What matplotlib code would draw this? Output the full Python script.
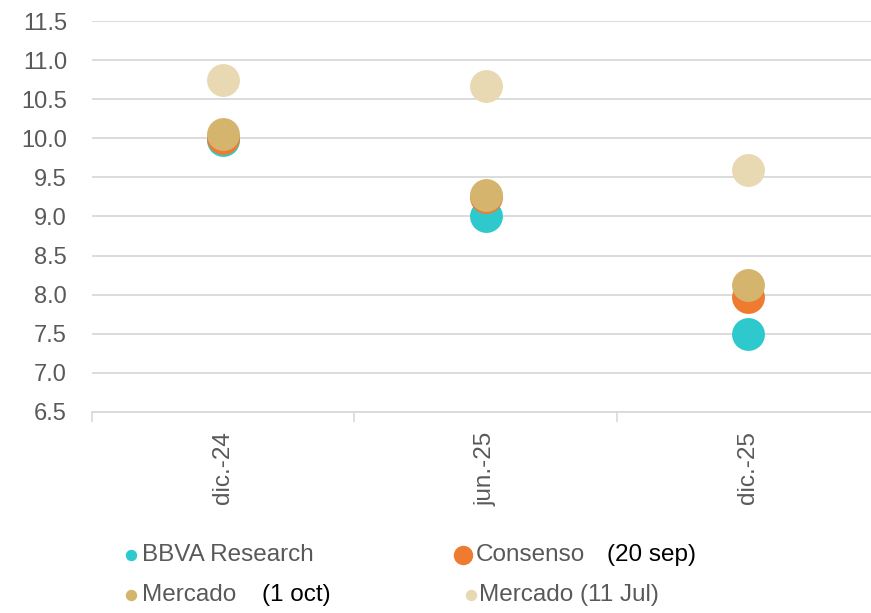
import matplotlib
matplotlib.use("Agg")
import matplotlib.pyplot as plt
from matplotlib.lines import Line2D

categories = ["dic.-24", "jun.-25", "dic.-25"]
bbva = [9.98, 9.0, 7.5]
consenso = [10.0, 9.25, 7.97]
mercado_oct = [10.05, 9.27, 8.12]
mercado_jul = [10.75, 10.67, 9.59]
yticks = [6.5, 7.0, 7.5, 8.0, 8.5, 9.0, 9.5, 10.0, 10.5, 11.0, 11.5]

c_bbva = "#2EC9CD"
c_cons = "#EE7B30"
c_oct = "#D5B56E"
c_jul = "#E8D9B3"
grey = "#595959"

plt.rcParams["font.family"] = ["Liberation Sans", "DejaVu Sans"]

fig = plt.figure(figsize=(8.71, 6.13), dpi=100)
ax = fig.add_axes([92 / 871, 201 / 613, 787 / 871, 391 / 613])

x = list(range(len(categories)))
s = 560
ax.scatter(x, bbva, s=s, color=c_bbva, zorder=3, linewidths=0)
ax.scatter(x, consenso, s=s, color=c_cons, zorder=4, linewidths=0)
ax.scatter(x, mercado_oct, s=s, color=c_oct, zorder=5, linewidths=0)
ax.scatter(x, mercado_jul, s=s, color=c_jul, zorder=6, linewidths=0)

ax.set_xlim(-0.5, 2.5)
ax.set_ylim(6.5, 11.5)
ax.set_yticks(yticks)
ax.set_yticklabels([f"{v:.1f}" for v in yticks])
ax.yaxis.grid(True, color="#D9D9D9", linewidth=1.3)
ax.set_axisbelow(True)
for sp in ["top", "right", "left"]:
    ax.spines[sp].set_visible(False)
ax.spines["bottom"].set_color("#D9D9D9")
ax.spines["bottom"].set_linewidth(1.3)

ax.tick_params(axis="y", length=0, pad=18, labelsize=17, labelcolor=grey)
ax.set_xticks(x)
ax.set_xticklabels(categories, rotation=90, fontsize=17.5, color=grey)
ax.tick_params(axis="x", length=0, pad=14)
ax.set_xticks([-0.5, 0.5, 1.5], minor=True)
ax.tick_params(axis="x", which="minor", length=7, color="#D9D9D9", width=1.2)

# legend drawn in figure coordinates
def fy(py):
    return 1 - py / 613

def fx(px):
    return px / 871

entries = [
    (131, 555, c_bbva, 10, "BBVA Research", 142, None, None),
    (463, 555, c_cons, 18, "Consenso", 476, "(20 sep)", 607),
    (131, 595, c_oct, 10, "Mercado", 142, "(1 oct)", 262),
    (471, 595, c_jul, 10, "Mercado (11 Jul)", 479, None, None),
]
for mx, my, col, ms, label, tx, extra, ex in entries:
    fig.add_artist(Line2D([fx(mx)], [fy(my)], marker="o", markersize=ms * 0.72,
                          color=col, linestyle="none", transform=fig.transFigure))
    fig.text(fx(tx), fy(my), label, fontsize=17.5, color=grey,
             va="center", ha="left")
    if extra:
        fig.text(fx(ex), fy(my), extra, fontsize=17.5, color="black",
                 va="center", ha="left")

fig.savefig("out.png", dpi=100)
